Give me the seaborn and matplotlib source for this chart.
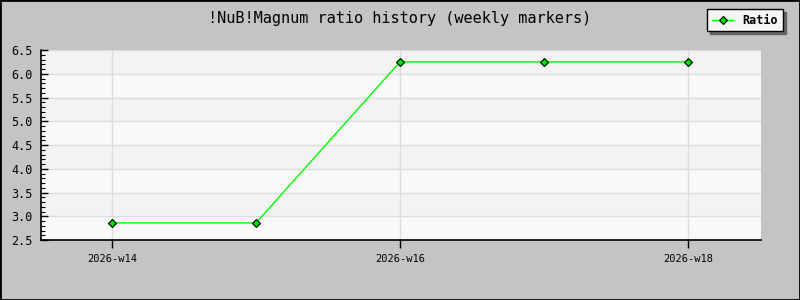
import matplotlib
matplotlib.use("Agg")
import matplotlib.pyplot as plt
import seaborn as sns
import pandas as pd
import numpy as np
from matplotlib.ticker import MultipleLocator

weeks = ["2026-w14", "2026-w15", "2026-w16", "2026-w17", "2026-w18"]
ratio = [2.86, 2.86, 6.25, 6.25, 6.25]
shown_labels = ["2026-w14", "2026-w16", "2026-w18"]

sns.set_style("white")
plt.rcParams["font.family"] = ["DejaVu Sans Mono", "DejaVu Sans"]
plt.rcParams["text.color"] = "black"
plt.rcParams["xtick.color"] = "black"
plt.rcParams["ytick.color"] = "black"

df = pd.DataFrame({"idx": np.arange(len(weeks)), "week": weeks, "Ratio": ratio})

fig = plt.figure(figsize=(8, 3), dpi=100, facecolor="#c4c4c4")
fig.patches.append(plt.Rectangle((0, 0), 1, 1, transform=fig.transFigure,
                                 fill=False, edgecolor="black", linewidth=2))
ax = fig.add_axes([41/800, 60/300, 720/800, 190/300])
ax.set_facecolor("#f9f9f9")

ax.set_ylim(2.5, 6.5)
ax.set_xlim(-0.493, 4.507)
for i, y0 in enumerate(np.arange(2.5, 6.5, 0.5)):
    if i % 2 == 1:
        ax.axhspan(y0, y0 + 0.5, color="#f3f3f3", zorder=0, lw=0)

sns.lineplot(data=df, x="idx", y="Ratio", ax=ax, color="#00ff00", lw=1,
             marker="D", markersize=4.5, markerfacecolor="#00dd00",
             markeredgecolor="black", markeredgewidth=0.8, label="Ratio", zorder=3)

tick_pos = [weeks.index(w) for w in shown_labels]
ax.set_xticks(tick_pos)
ax.set_xticklabels(shown_labels, fontsize=7.5)
ax.yaxis.set_major_locator(MultipleLocator(0.5))
ax.yaxis.set_minor_locator(MultipleLocator(0.1))
ax.set_yticklabels([f"{v:.1f}" for v in ax.get_yticks()], fontsize=8.5)
ax.tick_params(axis="y", which="major", direction="in", length=5, width=1, left=True, pad=6)
ax.tick_params(axis="y", which="minor", direction="in", length=3, width=0.8, left=True)
ax.tick_params(axis="x", which="major", direction="out", length=6, width=1, bottom=True, pad=4)
ax.grid(True, which="major", color="#dddddd", lw=1, zorder=1)
ax.set_axisbelow(True)
for s in ["top", "right"]:
    ax.spines[s].set_visible(False)
for s in ["left", "bottom"]:
    ax.spines[s].set_color("black")
    ax.spines[s].set_linewidth(1.2)
ax.set_xlabel("")
ax.set_ylabel("")

fig.text(400/800, 1 - 19/300, "!NuB!Magnum ratio history (weekly markers)",
         ha="center", va="center", fontsize=11, color="black")

leg = ax.legend(loc="upper right", bbox_to_anchor=(783/800, 1 - 9/300),
                bbox_transform=fig.transFigure, borderaxespad=0, frameon=True, fancybox=False,
                shadow={"color": "#555555", "alpha": 0.8}, handlelength=1.8, borderpad=0.4,
                prop={"weight": "bold", "size": 8.5})
leg.get_frame().set_edgecolor("black")
leg.get_frame().set_facecolor("#f5f5f5")
leg.get_frame().set_linewidth(1)

fig.savefig("out.png", dpi=100, facecolor=fig.get_facecolor())
